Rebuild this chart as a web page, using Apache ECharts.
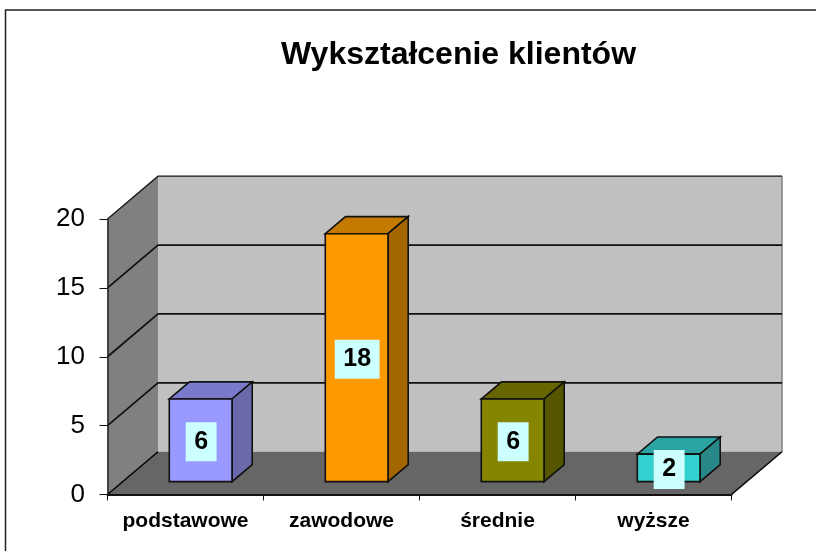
<!DOCTYPE html>
<html><head><meta charset="utf-8">
<style>html,body{margin:0;padding:0;background:#fff}#c{width:816px;height:551px}</style>
<script src="https://cdn.jsdelivr.net/npm/echarts@6/dist/echarts.min.js"></script>
</head><body><div id="c"></div>
<script>
const titleText = 'Wykształcenie klientów';
const categories = ['podstawowe', 'zawodowe', 'średnie', 'wyższe'];
const values = [6, 18, 6, 2];
const gridValues = [5, 10, 15, 20];
const frontColors = ['#9999ff', '#ff9900', '#858500', '#33d0d0'];
const topColors = ['#7a7acc', '#c47a00', '#666600', '#2ca3a3'];
const sideColors = ['#6a6aaa', '#a36600', '#555500', '#288888'];

const DX = 50.5, DY = -42.8;        // depth of the 3D box
const BAR_OFF = 0.3, BAR_DEPTH = 0.4, BAR_W = 0.402;

const chart = echarts.init(document.getElementById('c'), null, {renderer: 'canvas'});
const font = '"Liberation Sans", Arial, sans-serif';

function poly(points, fill, stroke, lw) {
  return {type: 'polygon', shape: {points}, style: {fill, stroke: stroke || null, lineWidth: lw || 0}};
}

chart.setOption({
  animation: false,
  backgroundColor: '#fff',
  title: {text: titleText, left: 453.5, top: 34, textAlign: 'center',
    textStyle: {fontFamily: font, fontWeight: 'bold', fontSize: 32, color: '#000'}},
  grid: {left: 107.5, top: 219, width: 624, height: 275.5},
  xAxis: {type: 'category', data: categories, z: 10,
    axisLine: {lineStyle: {color: '#111', width: 2}},
    axisTick: {show: true, length: 6, lineStyle: {color: '#111', width: 1}, alignWithLabel: false},
    axisLabel: {fontFamily: font, fontWeight: 'bold', fontSize: 21, color: '#000', margin: 16, interval: 0}},
  yAxis: {type: 'value', min: 0, max: 20, interval: 5, z: 10,
    axisLine: {show: true, lineStyle: {color: '#222', width: 1.5}},
    axisTick: {show: true, length: 8, lineStyle: {color: '#111', width: 1}},
    splitLine: {show: false},
    axisLabel: {fontFamily: font, fontSize: 26, color: '#000', margin: 22.5}},
  graphic: [{type: 'rect', z: -1, shape: {x: 5.5, y: 10, width: 840, height: 600},
    style: {fill: 'none', stroke: '#222', lineWidth: 1.5}}],
  series: [
    {type: 'custom', z: 1, silent: true, clip: false, data: [0],
      renderItem(params, api) {
        const a = api.coord([0, 0]);
        const band = api.size([1, 0])[0];
        const x0 = a[0] - band / 2, x1 = x0 + band * categories.length, y0 = a[1];
        const yTop = api.coord([0, 20])[1];
        return {type: 'group', children: [
          poly([[x0 + DX, yTop + DY], [x1 + DX, yTop + DY], [x1 + DX, y0 + DY], [x0 + DX, y0 + DY]], '#c0c0c0'),
          poly([[x0, yTop], [x0 + DX, yTop + DY], [x0 + DX, y0 + DY], [x0, y0]], '#808080'),
          poly([[x0, y0], [x1, y0], [x1 + DX, y0 + DY], [x0 + DX, y0 + DY]], '#666666'),
          {type: 'line', shape: {x1: x1 + DX, y1: yTop + DY, x2: x1 + DX, y2: y0 + DY}, style: {stroke: '#808080', lineWidth: 1.5}},
          {type: 'line', shape: {x1: x1, y1: y0, x2: x1 + DX, y2: y0 + DY}, style: {stroke: '#000', lineWidth: 1.5}},
          {type: 'line', shape: {x1: x0, y1: y0, x2: x0 + DX, y2: y0 + DY}, style: {stroke: '#000', lineWidth: 1.5}}
        ]};
      }},
    {type: 'custom', z: 2, silent: true, clip: false, data: gridValues,
      encode: {y: 0},
      renderItem(params, api) {
        const v = api.value(0);
        const p = api.coord([0, v]);
        const band = api.size([1, 0])[0];
        const x0 = p[0] - band / 2, x1 = x0 + band * categories.length;
        return {type: 'polyline', shape: {points: [[x0, p[1]], [x0 + DX, p[1] + DY], [x1 + DX, p[1] + DY]]},
          style: {fill: null, stroke: '#111', lineWidth: v === 20 ? 1.2 : 1.7}};
      }},
    {type: 'custom', z: 3, silent: true, clip: false,
      data: values.map((v, i) => [i, v]),
      encode: {x: 0, y: 1},
      renderItem(params, api) {
        const i = api.value(0), v = api.value(1);
        const band = api.size([1, 0])[0];
        const w = band * BAR_W;
        const ox = DX * BAR_OFF, oy = DY * BAR_OFF, dx = DX * BAR_DEPTH, dy = DY * BAR_DEPTH;
        const top = api.coord([i, v]), bot = api.coord([i, 0]);
        const l = top[0] - w / 2 + ox, r = l + w, t = top[1] + oy, b = bot[1] + oy;
        const E = {stroke: '#111', lineWidth: 1.6, lineJoin: 'round'};
        return {type: 'group', children: [
          poly([[l, t], [r, t], [r + dx, t + dy], [l + dx, t + dy]], topColors[i], E.stroke, E.lineWidth),
          poly([[r, t], [r + dx, t + dy], [r + dx, b + dy], [r, b]], sideColors[i], E.stroke, E.lineWidth),
          poly([[l, t], [r, t], [r, b], [l, b]], frontColors[i], E.stroke, E.lineWidth),
          {type: 'text', z2: 50, style: {text: String(v), x: (l + r) / 2 + 0.5, y: (t + b) / 2 + 1.5,
            align: 'center', verticalAlign: 'middle', fill: '#000',
            font: 'bold 25px ' + font, backgroundColor: '#ccffff', padding: [7, 8.5]}}
        ]};
      }}
  ]
});
</script></body></html>
